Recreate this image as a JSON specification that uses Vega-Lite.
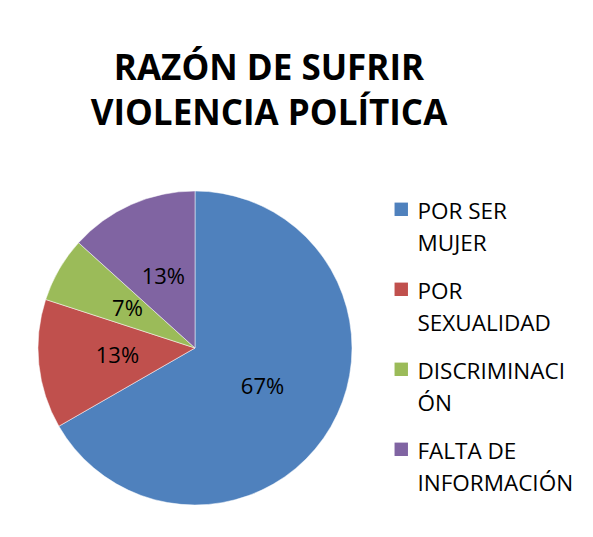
{
  "$schema": "https://vega.github.io/schema/vega-lite/v6.json",
  "autosize": {"type": "none"},
  "width": 314,
  "height": 314,
  "padding": {"left": 38, "top": 191, "right": 241, "bottom": 32},
  "background": "white",
  "title": {
    "text": ["RAZÓN DE SUFRIR", "VIOLENCIA POLÍTICA"],
    "font": "Open Sans",
    "fontSize": 35,
    "fontWeight": "bold",
    "color": "black",
    "lineHeight": 45,
    "anchor": "middle",
    "dx": 74,
    "offset": 58
  },
  "data": {
    "values": [
      {"razon": "POR SER MUJER", "i": 1, "p": 0.667},
      {"razon": "POR SEXUALIDAD", "i": 2, "p": 0.133},
      {"razon": "DISCRIMINACIÓN", "i": 3, "p": 0.067},
      {"razon": "FALTA DE INFORMACIÓN", "i": 4, "p": 0.133}
    ]
  },
  "encoding": {
    "theta": {"field": "p", "type": "quantitative", "stack": true},
    "order": {"field": "i", "type": "quantitative"}
  },
  "layer": [
    {
      "mark": {"type": "arc", "stroke": "white", "strokeWidth": 0.5},
      "encoding": {
        "color": {
          "field": "razon",
          "type": "nominal",
          "scale": {
            "domain": ["POR SER MUJER", "POR SEXUALIDAD", "DISCRIMINACIÓN", "FALTA DE INFORMACIÓN"],
            "range": ["#4F81BD", "#C0504D", "#9BBB59", "#8064A2"]
          },
          "legend": {
            "title": null,
            "orient": "none",
            "legendX": 352,
            "legendY": -1,
            "padding": 0,
            "symbolType": "M-1,0.2H1V2.2H-1Z",
            "symbolSize": 180,
            "symbolStrokeWidth": 0,
            "labelFont": "Open Sans",
            "labelFontSize": 22.5,
            "labelColor": "black",
            "labelLimit": 300,
            "labelOffset": 5,
            "labelBaseline": "top",
            "rowPadding": 14,
            "labelExpr": "datum.label == 'POR SER MUJER' ? ['POR SER', 'MUJER'] : datum.label == 'POR SEXUALIDAD' ? ['POR', 'SEXUALIDAD'] : datum.label == 'DISCRIMINACIÓN' ? ['DISCRIMINACI', 'ÓN'] : ['FALTA DE', 'INFORMACIÓN']"
          }
        }
      }
    },
    {
      "mark": {"type": "text", "radius": 78, "font": "Open Sans", "fontSize": 22, "color": "black"},
      "encoding": {
        "text": {"field": "p", "type": "quantitative", "format": ".0%"}
      }
    }
  ],
  "config": {
    "view": {"stroke": null},
    "style": {"guide-label": {"lineHeight": 32}}
  }
}
